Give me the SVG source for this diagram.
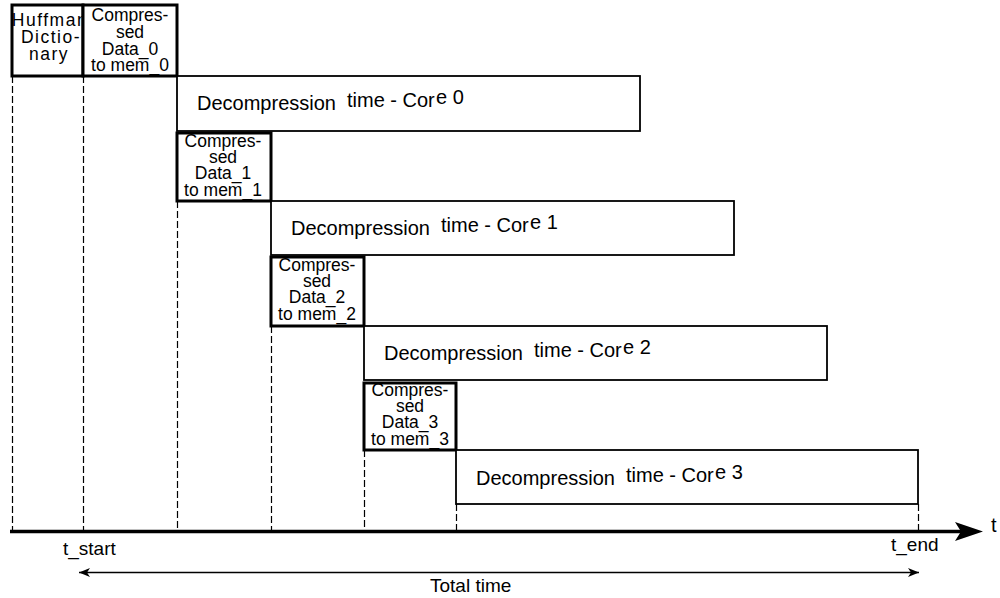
<svg xmlns="http://www.w3.org/2000/svg" width="1000" height="598" viewBox="0 0 1000 598">
<style>
  text { font-family: "Liberation Sans", Arial, sans-serif; fill: #000; }
  .thick { fill: #fff; stroke: #000; stroke-width: 3; }
  .thin { fill: #fff; stroke: #000; stroke-width: 1.8; }
  .small { font-size: 17.5px; text-anchor: middle; }
  .huff { font-size: 17.5px; text-anchor: middle; letter-spacing: 1.5px; }
  .big { font-size: 20px; }
  .lbl { font-size: 19px; }
  .dash { stroke: #000; stroke-width: 1.2; stroke-dasharray: 7,3; fill: none; }
</style>
<defs>
  <marker id="ah" markerUnits="userSpaceOnUse" markerWidth="12" markerHeight="10" refX="11" refY="4.5" orient="auto-start-reverse">
    <path d="M0,0 L11,4.5 L0,9 L3,4.5 z" fill="#000"/>
  </marker>
</defs>
<rect width="1000" height="598" fill="#fff"/>

<g id="connectors">
  <line class="dash" x1="12.5" y1="76" x2="12.5" y2="531"/>
  <line class="dash" x1="83.5" y1="76" x2="83.5" y2="531"/>
  <line class="dash" x1="177.5" y1="201" x2="177.5" y2="531"/>
  <line class="dash" x1="271.5" y1="326" x2="271.5" y2="531"/>
  <line class="dash" x1="364.5" y1="450" x2="364.5" y2="531"/>
  <line class="dash" x1="456.5" y1="504" x2="456.5" y2="531"/>
  <line class="dash" x1="918.5" y1="504" x2="918.5" y2="531"/>
  <line x1="10" y1="531.5" x2="962" y2="531.5" stroke="#000" stroke-width="3.5"/>
  <path d="M983,531.5 L955,522 L961,531.5 L955,541 z" fill="#000"/>
  <line x1="79" y1="572.5" x2="919" y2="572.5" stroke="#000" stroke-width="1.5" marker-start="url(#ah)" marker-end="url(#ah)"/>
</g>

<g id="huffman">
  <rect class="thick" x="12" y="5" width="71" height="71"/>
  <text class="huff"><tspan x="50" y="26">Huffman</tspan><tspan x="51" y="43">Dictio-</tspan><tspan x="49" y="60">nary</tspan></text>
</g>

<g id="data0">
  <rect class="thick" x="83" y="5" width="94" height="71"/>
  <text class="small"><tspan x="130" y="21">Compres-</tspan><tspan x="130" y="38">sed</tspan><tspan x="130" y="55">Data_0</tspan><tspan x="130" y="71">to mem_0</tspan></text>
</g>

<g id="core0">
  <rect class="thin" x="177" y="76" width="463" height="55"/>
  <text class="big" y="110"><tspan x="197">Decompression</tspan><tspan x="347" dy="-3">time - Cor</tspan><tspan x="436" dy="-3">e 0</tspan></text>
</g>

<g id="data1">
  <rect class="thick" x="177" y="133" width="94" height="68"/>
  <text class="small"><tspan x="223" y="147">Compres-</tspan><tspan x="223" y="163">sed</tspan><tspan x="223" y="179">Data_1</tspan><tspan x="223" y="196">to mem_1</tspan></text>
</g>

<g id="core1">
  <rect class="thin" x="271" y="201" width="463" height="54"/>
  <text class="big" y="235"><tspan x="291">Decompression</tspan><tspan x="441" dy="-3">time - Cor</tspan><tspan x="530" dy="-3">e 1</tspan></text>
</g>

<g id="data2">
  <rect class="thick" x="271" y="257" width="93" height="69"/>
  <text class="small"><tspan x="317" y="271">Compres-</tspan><tspan x="317" y="287">sed</tspan><tspan x="317" y="303">Data_2</tspan><tspan x="317" y="320">to mem_2</tspan></text>
</g>

<g id="core2">
  <rect class="thin" x="364" y="326" width="463" height="54"/>
  <text class="big" y="360"><tspan x="384">Decompression</tspan><tspan x="534" dy="-3">time - Cor</tspan><tspan x="623" dy="-3">e 2</tspan></text>
</g>

<g id="data3">
  <rect class="thick" x="364" y="383" width="92" height="67"/>
  <text class="small"><tspan x="410" y="396">Compres-</tspan><tspan x="410" y="412">sed</tspan><tspan x="410" y="428">Data_3</tspan><tspan x="410" y="445">to mem_3</tspan></text>
</g>

<g id="core3">
  <rect class="thin" x="456" y="450" width="462" height="54"/>
  <text class="big" y="485"><tspan x="476">Decompression</tspan><tspan x="626" dy="-3">time - Cor</tspan><tspan x="715" dy="-3">e 3</tspan></text>
</g>

<g id="labels">
  <text class="big" x="991" y="532">t</text>
  <text class="lbl" x="63" y="555">t_start</text>
  <text class="lbl" x="891" y="551">t_end</text>
  <text class="lbl" x="430" y="592">Total time</text>
</g>
</svg>
